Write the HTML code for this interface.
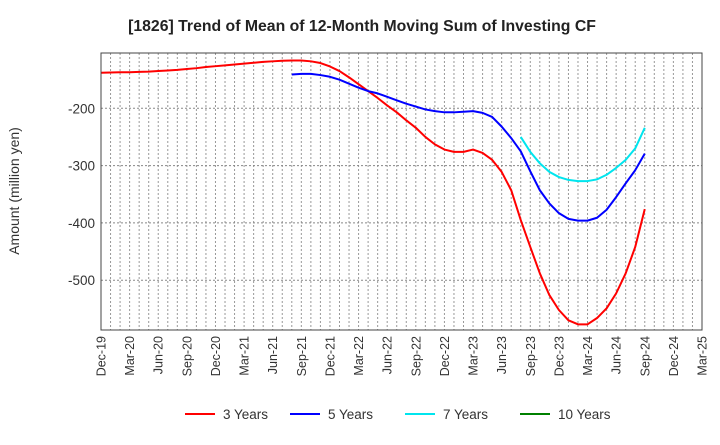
<!DOCTYPE html>
<html><head><meta charset="utf-8"><style>
body{margin:0;background:#fff;font-family:"Liberation Sans",sans-serif}
svg text{font-family:"Liberation Sans",sans-serif}
</style></head><body>
<svg id="c" width="720" height="440" xmlns="http://www.w3.org/2000/svg">
<text x="362" y="31" text-anchor="middle" font-size="15.8" font-weight="bold" fill="#222">[1826]  Trend of Mean of 12-Month Moving Sum of Investing CF</text>
<text transform="translate(19,191) rotate(-90)" text-anchor="middle" font-size="14" fill="#333">Amount (million yen)</text>
<g id="grid"></g><g id="series"></g><g id="axes"></g><g id="legend"></g>
</svg>
<script>
const xLabels=["Dec-19","Mar-20","Jun-20","Sep-20","Dec-20","Mar-21","Jun-21","Sep-21","Dec-21","Mar-22","Jun-22","Sep-22","Dec-22","Mar-23","Jun-23","Sep-23","Dec-23","Mar-24","Jun-24","Sep-24","Dec-24","Mar-25"];
const yTicks=[-200,-300,-400,-500];
const seriesNames=["3 Years","5 Years","7 Years","10 Years"];
const seriesColors=["#ff0000","#0000ff","#00e5ee","#008000"];
const s3Start=0;
const s3=[-138,-137.5,-137,-137,-136.5,-136,-135,-134,-133,-131.5,-130,-128,-126.5,-125,-123.5,-122,-120.5,-119,-118,-117,-116.5,-116.5,-118,-121,-127,-135,-146,-158,-170,-182,-195,-207,-221,-234,-250,-263,-272,-276,-276,-272,-278,-290,-311,-343,-395,-442,-488,-526,-552,-570,-577,-577,-566,-549,-523,-488,-442,-376];
const s5Start=20;
const s5=[-141,-140,-140,-142,-145,-150,-157,-164,-170,-174,-180,-186,-192,-197,-202,-205,-207,-207,-206,-205,-208,-215,-232,-252,-275,-310,-343,-366,-383,-393,-396,-396,-391,-377,-355,-331,-308,-279];
const s7Start=44;
const s7=[-250,-276,-296,-311,-320,-325,-327,-327,-324,-316,-304,-290,-270,-234];
const s10Start=0;
const s10=[];

const L=101,R=702,T=53,B=330;
const months=63;
const xM=i=>L+(R-L)*i/months;
const yV=v=>108.3+(-200-v)*0.573;
const NS="http://www.w3.org/2000/svg";
function mk(tag,attrs,parent){const e=document.createElementNS(NS,tag);for(const k in attrs)e.setAttribute(k,attrs[k]);parent.appendChild(e);return e;}
const grid=document.getElementById('grid'),axes=document.getElementById('axes'),ser=document.getElementById('series'),leg=document.getElementById('legend');
for(let i=1;i<months;i++){
 const l=mk('line',{x1:xM(i),x2:xM(i),y1:T,y2:B,stroke:'#999','stroke-width':1,'stroke-dasharray':'2,2'},grid);
 
 
}
yTicks.forEach(v=>{
 const l=mk('line',{x1:L,x2:R,y1:yV(v),y2:yV(v),stroke:'#888','stroke-width':1,'stroke-dasharray':'2,2'},grid);
 
 
 const t=mk('text',{x:L-6,y:yV(v)+5,'text-anchor':'end','font-size':13.5,fill:'#333'},axes);
 t.textContent=v;
 
 
});
xLabels.forEach((lab,i)=>{
 const x=xM(i*3);
 const t=mk('text',{transform:`translate(${x+4.5},${B+6}) rotate(-90)`,'text-anchor':'end','font-size':12.5,fill:'#333'},axes);
 t.textContent=lab;
 
 
});
const fr=mk('rect',{x:L,y:T,width:R-L,height:B-T,fill:'none',stroke:'#444','stroke-width':1},axes);


const all=[[s3,s3Start],[s5,s5Start],[s7,s7Start],[s10,s10Start]];
all.forEach(([d,st],k)=>{
 if(!d.length)return;
 const p=mk('polyline',{points:d.map((v,i)=>xM(st+i)+','+yV(v)).join(' '),fill:'none',stroke:seriesColors[k],'stroke-width':2,'stroke-linejoin':'round'},ser);
 
 
});
const lx=[185,290,405,520];
seriesNames.forEach((n,k)=>{
 const g=mk('g',{},leg);
 
 
 mk('line',{x1:lx[k],x2:lx[k]+30,y1:414,y2:414,stroke:seriesColors[k],'stroke-width':2},g);
 const t=mk('text',{x:lx[k]+38,y:419,'font-size':13.5,fill:'#333'},g);
 t.textContent=n;
});
</script>
</body></html>
